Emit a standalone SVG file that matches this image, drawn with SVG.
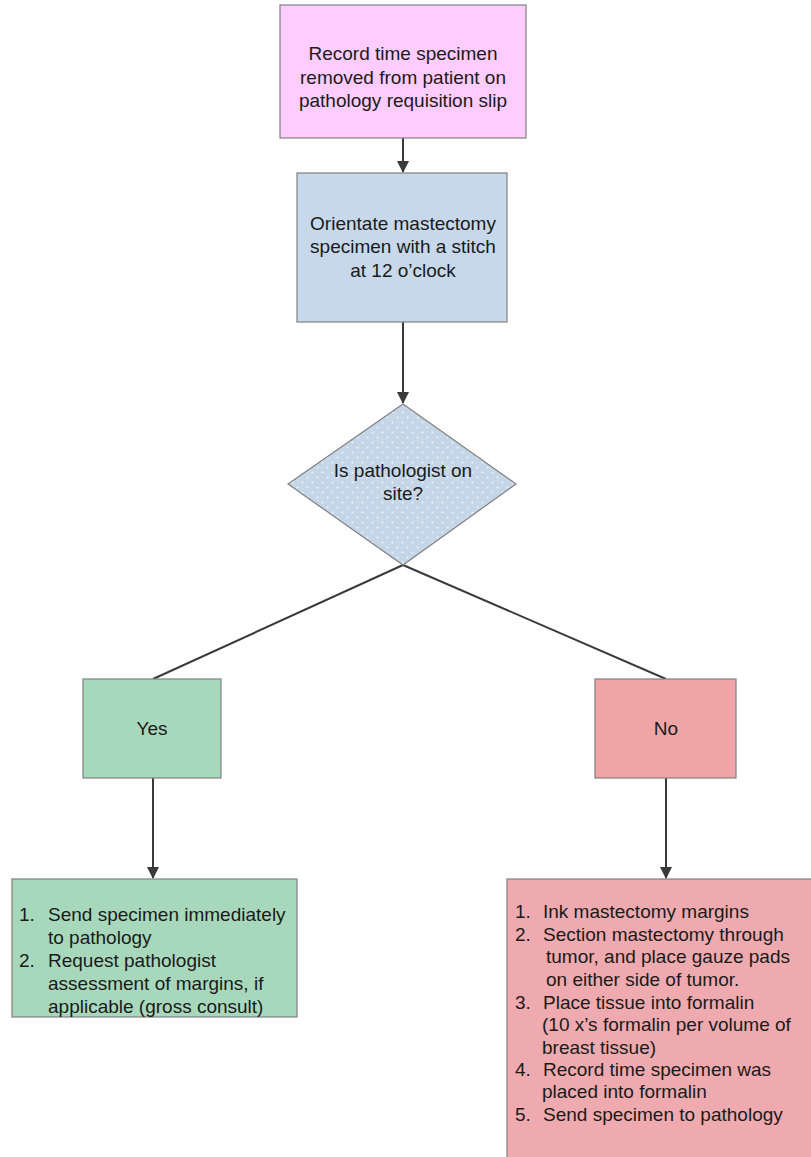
<svg xmlns="http://www.w3.org/2000/svg" width="811" height="1157" viewBox="0 0 811 1157">
<style>
.box{stroke:#808080;stroke-width:1.2}
.t{font-family:"Liberation Sans",Arial,sans-serif;font-size:19px;fill:#1a1a1a}
.c{text-anchor:middle}
.ln{stroke:#3a3a3a;stroke-width:2;fill:none}
</style>
<defs>
<marker id="ah" markerWidth="12" markerHeight="14" refX="11" refY="6" orient="auto" markerUnits="userSpaceOnUse">
<path d="M0,0 L12,6 L0,12 Z" fill="#3a3a3a"/>
</marker>
<pattern id="dots" width="10" height="10" patternUnits="userSpaceOnUse">
<rect width="10" height="10" fill="#C4D6E8"/>
<circle cx="2.5" cy="2.5" r="1" fill="#EEF3FA"/>
<circle cx="7.5" cy="7.5" r="1" fill="#EEF3FA"/>
</pattern>
</defs>
<rect width="811" height="1157" fill="#ffffff"/>
<g id="connectors">
<line class="ln" x1="403" y1="138" x2="403" y2="172" marker-end="url(#ah)"/>
<line class="ln" x1="403" y1="322" x2="403" y2="403" marker-end="url(#ah)"/>
<line class="ln" x1="403" y1="565" x2="153" y2="679"/>
<line class="ln" x1="403" y1="565" x2="666" y2="679"/>
<line class="ln" x1="153" y1="778" x2="153" y2="878" marker-end="url(#ah)"/>
<line class="ln" x1="666" y1="778" x2="666" y2="878" marker-end="url(#ah)"/>
</g>
<g id="n1">
<rect class="box" x="280" y="5" width="246" height="133" fill="#FFCCFF"/>
<text class="t c" x="403" y="60">Record time specimen</text>
<text class="t c" x="403" y="84">removed from patient on</text>
<text class="t c" x="403" y="107">pathology requisition slip</text>
</g>
<g id="n2">
<rect class="box" x="297" y="173" width="210" height="149" fill="#C6D8EA"/>
<text class="t c" x="403" y="230">Orientate mastectomy</text>
<text class="t c" x="403" y="253">specimen with a stitch</text>
<text class="t c" x="403" y="277">at 12 o’clock</text>
</g>
<g id="decision">
<polygon class="box" points="403,404 516,484 403,565 288,484" fill="url(#dots)"/>
<text class="t c" x="403" y="477">Is pathologist on</text>
<text class="t c" x="403" y="500">site?</text>
</g>
<g id="yes">
<rect class="box" x="83" y="679" width="138" height="99" fill="#A8D8BC"/>
<text class="t c" x="152" y="735">Yes</text>
</g>
<g id="no">
<rect class="box" x="595" y="679" width="141" height="99" fill="#EFA5A6"/>
<text class="t c" x="666" y="735">No</text>
</g>
<g id="yesSteps">
<rect class="box" x="12" y="879" width="285" height="138" fill="#A8D8BC"/>
<text class="t" x="19" y="921">1.</text><text class="t" x="48" y="921">Send specimen immediately</text>
<text class="t" x="48" y="944">to pathology</text>
<text class="t" x="19" y="967">2.</text><text class="t" x="48" y="967">Request pathologist</text>
<text class="t" x="48" y="990">assessment of margins, if</text>
<text class="t" x="48" y="1013">applicable (gross consult)</text>
</g>
<g id="noSteps">
<rect class="box" x="507" y="879" width="310" height="290" fill="#EEAAAE"/>
<text class="t" x="515" y="918">1.</text><text class="t" x="543" y="918">Ink mastectomy margins</text>
<text class="t" x="515" y="941">2.</text><text class="t" x="543" y="941">Section mastectomy through</text>
<text class="t" x="546" y="963">tumor, and place gauze pads</text>
<text class="t" x="546" y="986">on either side of tumor.</text>
<text class="t" x="515" y="1009">3.</text><text class="t" x="543" y="1009">Place tissue into formalin</text>
<text class="t" x="542" y="1031">(10 x’s formalin per volume of</text>
<text class="t" x="542" y="1054">breast tissue)</text>
<text class="t" x="515" y="1076">4.</text><text class="t" x="543" y="1076">Record time specimen was</text>
<text class="t" x="542" y="1098">placed into formalin</text>
<text class="t" x="515" y="1121">5.</text><text class="t" x="543" y="1121">Send specimen to pathology</text>
</g>
</svg>
